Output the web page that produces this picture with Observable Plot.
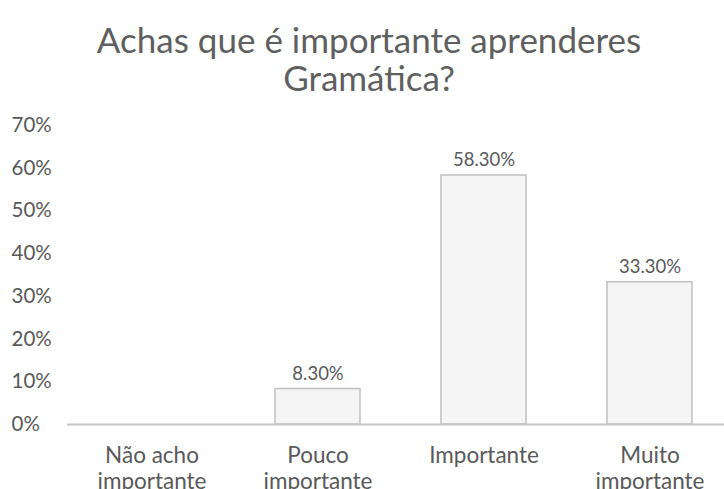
<!DOCTYPE html>
<html>
<head>
<meta charset="utf-8">
<script src="https://cdn.jsdelivr.net/npm/d3@7"></script>
<script src="https://cdn.jsdelivr.net/npm/@observablehq/plot@0.6"></script>
<style>
  html, body { margin: 0; padding: 0; background: #fff; overflow: hidden; }
  #title { font-family: Lato, "Open Sans", sans-serif; font-size: 35px; line-height: 38px; color: #5f5f5f;
           text-align: center; width: 724px; padding-top: 20px; height: 79px; box-sizing: content-box; margin-left: 7px; white-space: nowrap; }
  #chart svg { overflow: visible; }
</style>
</head>
<body>
<div id="title">Achas que é importante aprenderes<br>Gramática?</div>
<div id="chart"></div>
<script>
const categories = ["Não acho\nimportante", "Pouco\nimportante", "Importante", "Muito\nimportante"];
const values = [0, 0.083, 0.583, 0.333];
const labels = ["", "8.30%", "58.30%", "33.30%"];
const yTicks = [0, 0.1, 0.2, 0.3, 0.4, 0.5, 0.6, 0.7];

const data = categories.map((c, i) => ({cat: c, value: values[i], label: labels[i]}));
const gray = "#595959";

const chart = Plot.plot({
  width: 724,
  height: 390,
  marginTop: 26,
  marginBottom: 65,
  marginLeft: 67,
  marginRight: 0,
  style: {fontFamily: "Lato, 'Open Sans', sans-serif", color: gray, background: "#fff", overflow: "visible"},
  x: {domain: categories, range: [67, 733], paddingInner: 0.49, paddingOuter: 0.245},
  y: {domain: [0, 0.7]},
  marks: [
    Plot.axisY({ticks: yTicks, tickFormat: d3.format(".0%"), tickSize: 0, tickPadding: 0, textAnchor: "start", dx: -56, fontSize: 20.5, fill: gray, label: null}),
    Plot.axisX({tickSize: 0, tickPadding: 20, fontSize: 22.5, lineHeight: 1.16, fill: gray, label: null}),
    Plot.barY(data, {x: "cat", y: "value", fill: "#f5f5f5", stroke: "#c0c0c0", strokeWidth: 1.5}),
    Plot.ruleY([0], {stroke: "#c4c4c4", strokeWidth: 2}),
    Plot.text(data.filter(d => d.label), {x: "cat", y: "value", text: "label", dy: -15, fontSize: 18.5, fill: gray})
  ]
});
document.getElementById("chart").appendChild(chart);
</script>
</body>
</html>
